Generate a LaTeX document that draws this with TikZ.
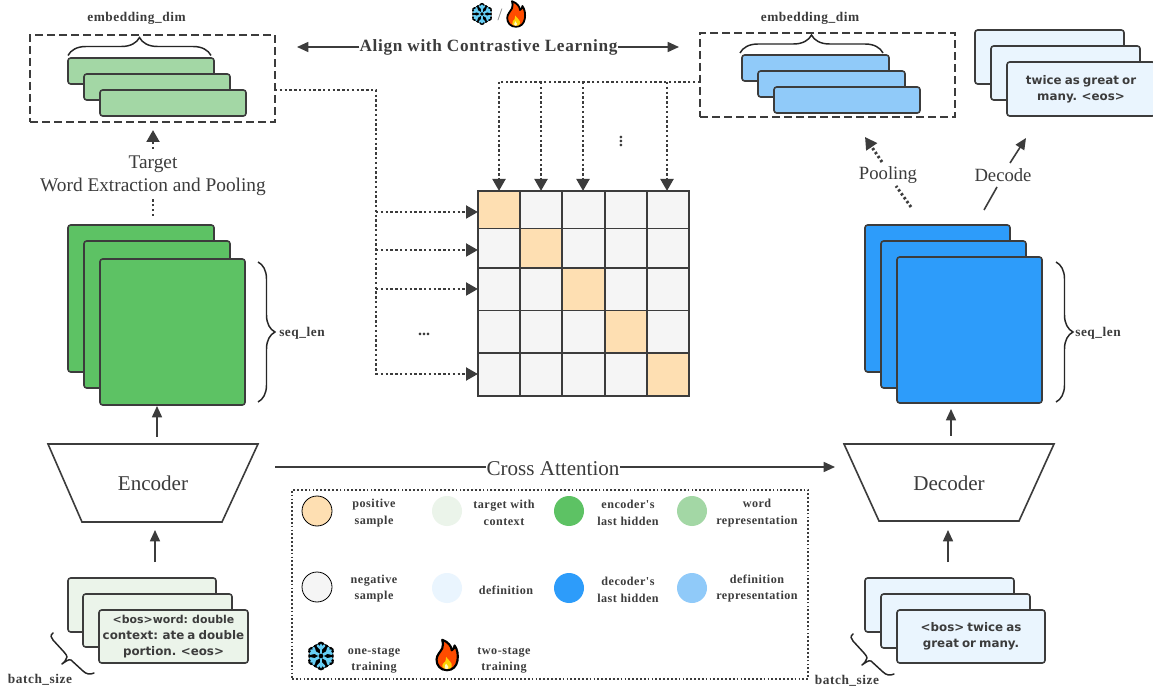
\documentclass[tikz,border=0pt]{standalone}
\usepackage{fontspec}
\setmainfont{Liberation Serif}
\newfontfamily\cardfont[WordSpace=0.75]{DejaVu Sans}
\newfontfamily\labelfont[LetterSpace=4]{Liberation Serif}
\usetikzlibrary{arrows.meta,decorations.pathreplacing}
\definecolor{ink}{HTML}{3C3C3C}
\definecolor{wordc}{HTML}{A3D7A5}
\definecolor{encc}{HTML}{5DC264}
\definecolor{decc}{HTML}{2D9CFA}
\definecolor{defrep}{HTML}{90CAF9}
\definecolor{defc}{HTML}{EAF5FE}
\definecolor{tgtc}{HTML}{EBF4EA}
\definecolor{posc}{HTML}{FEDFB2}
\definecolor{negc}{HTML}{F5F5F5}
\def\px{0.75pt}
\tikzset{
  cardbox/.style={draw=ink,line width=1.2pt,rounded corners=2pt,inner sep=0pt,outer sep=0pt,align=center,
    text=ink,font=\cardfont\bfseries\fontsize{8.9}{12}\selectfont},
  cell/.style={draw=ink,line width=1.2pt,inner sep=0pt,outer sep=0pt},
  plain/.style={draw=ink,line width=1.2pt},
  tip/.style={-{Triangle[length=8.5pt,width=7.5pt]}},
  solidarrow/.style={plain,tip},
  dotline/.style={draw=ink,line width=2.2pt,dash pattern=on 1.8pt off 1.8pt},
  dotarrow/.style={dotline,-{Triangle[length=9pt,width=9.5pt]}},
  dashbox/.style={draw=ink,line width=1.1pt,dash pattern=on 6pt off 3pt},
  bigtext/.style={text=ink,inner sep=0pt,font=\fontsize{14.5}{17.25}\selectfont,align=center},
  midtext/.style={text=ink,inner sep=0pt,font=\fontsize{14}{17}\selectfont,align=center},
  hugetext/.style={text=ink,inner sep=0pt,font=\fontsize{15.8}{18}\selectfont,align=center},
  smalllabel/.style={text=ink,inner sep=0pt,align=center,font=\labelfont\bfseries\fontsize{9.1}{12.4}\selectfont},
  dimlabel/.style={text=ink,inner sep=0pt,font=\labelfont\bfseries\fontsize{10}{12}\selectfont},
  legendcircle/.style={circle,inner sep=0pt,outer sep=0pt,minimum size=22.5pt},
  bracecurve/.style={draw=black!85,line width=1.1pt,decorate},
}
% name, cx, cy, w, h, colour, text
\newcommand{\stackcard}[7]{\node[cardbox,fill=#6,minimum width=#4*\px,minimum height=#5*\px] (#1) at (#2,#3) {#7};}
\newcommand{\snowicon}[3]{%
\begin{scope}[shift={(#1,#2)},x=#3*\px,y=#3*\px]
  \foreach \a in {30,90,150} {
    \draw[black,line width=#3*4.6pt,line cap=round,rotate=\a] (-8,0) -- (8,0);
    \draw[black,line width=#3*4.6pt,line cap=round,rotate=\a] (-6,-3) -- (-6,3) (6,-3) -- (6,3);
  }
  \fill[black] (0,0) circle (8);
  \foreach \a in {30,90,150} {
    \draw[cyan!60!white,line width=#3*1.6pt,line cap=round,rotate=\a] (-8.5,0) -- (8.5,0);
    \draw[cyan!60!white,line width=#3*1.5pt,line cap=round,rotate=\a] (-8,-2.5) -- (-5.5,0) -- (-8,2.5) (8,-2.5) -- (5.5,0) -- (8,2.5);
  }
  \fill[black] (0,0) circle (1.8);
\end{scope}}
\newcommand{\fireicon}[3]{%
\begin{scope}[shift={(#1,#2)},x=#3*\px,y=-#3*\px]
  \draw[black,line width=#3*1.7pt,fill=orange!60!red,line join=round]
    (0,16) .. controls (-7,16) and (-11,11) .. (-11,5)
    .. controls (-11,0) and (-7,-3) .. (-5,-7)
    .. controls (-4,-10) and (-4,-13) .. (-5,-16)
    .. controls (1,-14) and (5,-9) .. (5,-5)
    .. controls (7,-6) and (8,-8) .. (8,-10)
    .. controls (11,-6) and (12,0) .. (11,6)
    .. controls (10,12) and (6,16) .. (0,16) -- cycle;
  \fill[yellow!70!orange] (0,14.8) .. controls (-5,14.8) and (-6,11) .. (-4,9)
    .. controls (-2,8) and (-1,6) .. (-1,2) .. controls (1,5) and (6,8) .. (5,12)
    .. controls (4.5,14) and (3,14.8) .. (0,14.8) -- cycle;
  \fill[yellow!25!white] (0,14.8) .. controls (-3,14.8) and (-3,12) .. (-1,9) .. controls (1,11) and (3,14) .. (0,14.8) -- cycle;
\end{scope}}
\newcommand{\slantbrace}[2]{%
\begin{scope}[shift={(#1,#2)}]
  \draw[draw=black!85,line width=1.1pt,line join=round,line cap=round]
    (53,633) .. controls (50,635) and (51,638) .. (53,640) -- (64,652)
    .. controls (66,654) and (67,656) .. (67,657) .. controls (66,660) and (64,663) .. (62,664)
    .. controls (65,662) and (68,659) .. (71,660) -- (83,671)
    .. controls (86,674) and (90,675) .. (94,673);
\end{scope}}
\begin{document}
\begin{tikzpicture}[x=\px,y=-\px]
\useasboundingbox (0,0) rectangle (1153,691);
\fill[white] (0,0) rectangle (1153,691);
\clip (0,0) rectangle (1153,691);

% ---------- left embedding box
\node[dashbox,minimum width=245*\px,minimum height=87*\px,inner sep=0pt,outer sep=0pt] (leftbox) at (152.5,78.5) {};
\stackcard{lw1}{141}{71}{146}{26}{wordc}{}
\stackcard{lw2}{157}{87}{146}{26}{wordc}{}
\stackcard{lw3}{173}{103}{146}{26}{wordc}{}
\draw[bracecurve,decoration={brace,amplitude=18*\px}] (68,55.5) -- (211,55.5);
\node[dimlabel] (ldim) at (136.5,18) {embedding\_dim};

% ---------- left encoder stack
\stackcard{le1}{141}{298.5}{146}{147}{encc}{}
\stackcard{le2}{157}{314.5}{146}{147}{encc}{}
\stackcard{le3}{172.5}{332}{145}{146}{encc}{}
\draw[bracecurve,decoration={brace,amplitude=17*\px}] (258,262) -- (258,402);
\node[dimlabel] (lseq) at (302,333) {seq\_len};

\node[bigtext] (ltext) at (153,176) {Target\\Word Extraction and Pooling};
\coordinate (lpa) at (153,149);
\coordinate (lpb) at (153,130);
\coordinate (lpc) at (153,216);
\coordinate (lpd) at (153,199);
\draw[dotarrow] (lpa) -- (lpb);
\draw[dotline] (lpc) -- (lpd);

% ---------- encoder
\draw[plain,line join=miter] (48,444) -- (258,444) -- (222,522) -- (82,522) -- cycle;
\node[hugetext] (enc) at (153,483) {Encoder};
\coordinate (ea) at (157,437);
\coordinate (eb) at (157,406);
\draw[solidarrow] (ea) -- (eb);
\coordinate (ia) at (155,562);
\coordinate (ib) at (155,530);
\draw[solidarrow] (ia) -- (ib);

\stackcard{li1}{142}{605}{148}{54}{tgtc}{}
\stackcard{li2}{157.5}{620.5}{149}{53}{tgtc}{}
\stackcard{li3}{173.5}{636.5}{149}{53}{tgtc}{\fontsize{8.2}{10.9}\selectfont <bos>word: double\\context: ate a double\\portion. <eos>}
\slantbrace{0}{0}
\node[dimlabel] (lbatch) at (40,680) {batch\_size};

% ---------- centre top
\node[text=ink,inner sep=0pt,font=\labelfont\bfseries\fontsize{12.9}{15}\selectfont] (align) at (488.5,47) {Align with Contrastive Learning};
\coordinate (alignl) at (297,47);
\coordinate (alignr) at (679,47);
\draw[solidarrow] (align.west) -- (alignl);
\draw[solidarrow] (align.east) -- (alignr);
\snowicon{482}{14}{1.0}
\node[text=gray,inner sep=0pt,font=\fontsize{13}{15}\selectfont] (slash) at (500,15) {/};
\fireicon{516}{14}{0.8}

% ---------- matrix
\def\cols{478/42,520/42,562/43,605/42,647/42}
\foreach \r/\yt/\h in {1/191/37.5,2/228.5/39.5,3/268/42.7,4/310.7/42.3,5/353/43} {
  \foreach \xl/\w [count=\i] in \cols {
    \ifnum\i=\r \def\cc{posc}\else\def\cc{negc}\fi
    \node[cell,fill=\cc,minimum width=\w*\px,minimum height=\h*\px] (c\r\i) at ({\xl+\w/2},{\yt+\h/2}) {};
  }
}

% ---------- dotted connectors
\coordinate (lbus) at (376,90);
\coordinate (lbusend) at (376,375);
\coordinate (lout) at (275,90);
\draw[dotline] (lout) -- (lbus) -- (lbusend);
\foreach \r/\yy in {1/212,2/250,3/289,5/374} {
  \coordinate (rr\r) at (376,\yy);
  \draw[dotarrow] (rr\r) -- (c\r1.west |- rr\r);
}
\coordinate (rbus) at (499,82);
\coordinate (rout) at (700,82);
\draw[dotline] (rout) -- (rbus);
\foreach \i/\xx in {1/499,2/541,3/583,5/667} {
  \coordinate (tt\i) at (\xx,82);
  \draw[dotarrow] (tt\i) -- (tt\i |- c1\i.north);
}
\node[text=ink,inner sep=0pt,font=\bfseries\fontsize{12}{14}\selectfont] (hdots) at (424,334) {...};
\node[text=ink,inner sep=0pt,rotate=90,font=\bfseries\fontsize{12}{14}\selectfont] (vdots) at (621,142) {...};

% ---------- right embedding
\node[dashbox,minimum width=255*\px,minimum height=84*\px,inner sep=0pt,outer sep=0pt] (rightbox) at (827.5,75) {};
\stackcard{rw1}{815.5}{68}{147}{26}{defrep}{}
\stackcard{rw2}{831.5}{84}{147}{26}{defrep}{}
\stackcard{rw3}{847}{100}{146}{26}{defrep}{}
\draw[bracecurve,decoration={brace,amplitude=18*\px}] (740,53) -- (883,53);
\node[dimlabel] (rdim) at (810,18) {embedding\_dim};

\stackcard{rd1}{1049.5}{57}{149}{54}{defc}{}
\stackcard{rd2}{1065.5}{73}{149}{54}{defc}{}
\stackcard{rd3}{1081}{89}{148}{54}{defc}{twice as great or\\many. <eos>}

% ---------- right decoder stack
\stackcard{re1}{937.5}{298.5}{145}{147}{decc}{}
\stackcard{re2}{953.5}{314.5}{145}{147}{decc}{}
\stackcard{re3}{969.5}{330}{145}{146}{decc}{}
\draw[bracecurve,decoration={brace,amplitude=17*\px}] (1056,262) -- (1056,402);
\node[dimlabel] (rseq) at (1098,333) {seq\_len};

\node[midtext] (pool) at (888,175.5) {Pooling};
\node[midtext] (deco) at (1003,175.5) {Decode};
\coordinate (pa) at (882,162);
\coordinate (pb) at (865,137);
\coordinate (pc) at (911,207);
\coordinate (pd) at (896,186);
\draw[dotarrow] (pa) -- (pb);
\draw[dotline] (pc) -- (pd);
\coordinate (da) at (1010,163);
\coordinate (db) at (1026,138);
\coordinate (dc) at (984,210);
\coordinate (dd) at (997,187);
\draw[solidarrow] (da) -- (db);
\draw[plain] (dc) -- (dd);

% ---------- decoder
\draw[plain,line join=miter] (844,444) -- (1054,444) -- (1019,521) -- (879,521) -- cycle;
\node[hugetext] (dec) at (949,483) {Decoder};
\coordinate (ra) at (951,436);
\coordinate (rb) at (951,409);
\draw[solidarrow] (ra) -- (rb);
\coordinate (rc) at (948,562);
\coordinate (rd) at (948,530);
\draw[solidarrow] (rc) -- (rd);

\stackcard{ri1}{939.5}{605}{149}{54}{defc}{}
\stackcard{ri2}{955.5}{621}{149}{54}{defc}{}
\stackcard{ri3}{971}{636.5}{148}{53}{defc}{<bos> twice as\\great or many.}
\slantbrace{800}{1}
\node[dimlabel] (rbatch) at (847,681) {batch\_size};

% ---------- cross attention
\node[hugetext] (cross) at (553,469) {Cross Attention};
\coordinate (xl) at (275,467);
\coordinate (xr) at (835,467);
\draw[plain] (xl) -- (cross.west |- xl);
\draw[solidarrow] (cross.east |- xr) -- (xr);

% ---------- legend
\node[draw=ink,line width=1pt,dash pattern=on 1.3pt off 1.6pt,minimum width=516*\px,minimum height=189*\px,inner sep=0pt] (legend) at (550,584.5) {};
\node[legendcircle,fill=posc,draw=black,line width=0.6pt] (g1) at (317,511) {};
\node[legendcircle,fill=tgtc] (g2) at (447,511) {};
\node[legendcircle,fill=encc] (g3) at (569,511) {};
\node[legendcircle,fill=wordc] (g4) at (692,511) {};
\node[legendcircle,fill=negc,draw=black,line width=0.6pt] (g5) at (317,587) {};
\node[legendcircle,fill=defc] (g6) at (447,588) {};
\node[legendcircle,fill=decc] (g7) at (569,588) {};
\node[legendcircle,fill=defrep] (g8) at (692,588) {};
\snowicon{321}{656}{1.3}
\fireicon{447}{655}{0.95}
\node[smalllabel] (t1) at (374,513) {positive\\sample};
\node[smalllabel] (t2) at (504,513) {target with\\context};
\node[smalllabel] (t3) at (628,513) {encoder's\\last hidden};
\node[smalllabel] (t4) at (757,513) {word\\representation};
\node[smalllabel] (t5) at (374,588.5) {negative\\sample};
\node[smalllabel] (t6) at (506,590) {definition};
\node[smalllabel] (t7) at (628,590) {decoder's\\last hidden};
\node[smalllabel] (t8) at (757,588.5) {definition\\representation};
\node[smalllabel] (t9) at (374,660.5) {one-stage\\training};
\node[smalllabel] (t10) at (504,660.5) {two-stage\\training};
\end{tikzpicture}
\end{document}
